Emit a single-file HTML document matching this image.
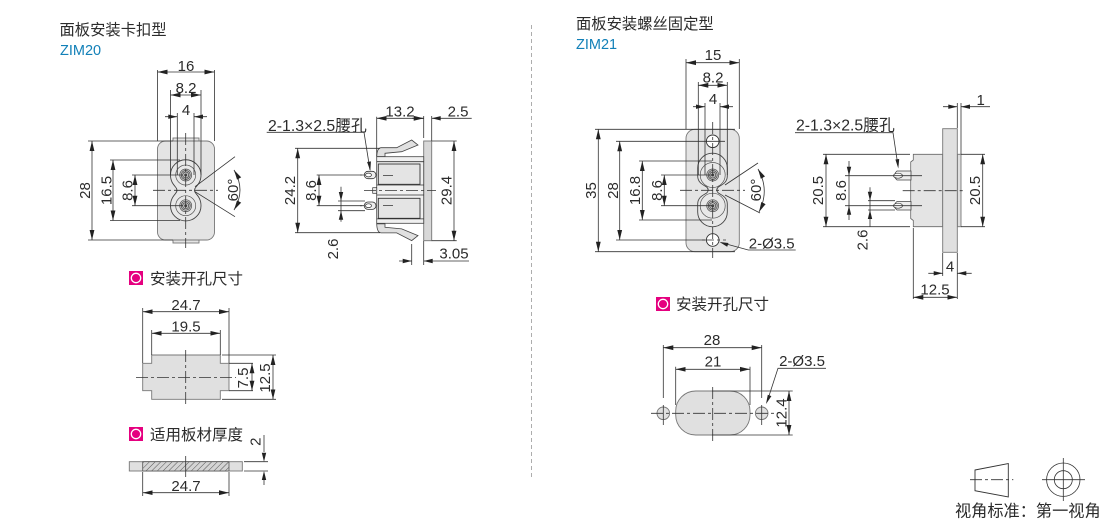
<!DOCTYPE html>
<html>
<head>
<meta charset="utf-8">
<style>
html,body{margin:0;padding:0;background:#fff;width:1110px;height:522px;overflow:hidden}
svg{display:block}
text{font-family:"Liberation Sans","Noto Sans CJK SC",sans-serif;fill:#2b2b2b}
.d{font-size:15px;text-anchor:middle}
.n{font-size:15.800px}
.t{font-size:15.300px}
.s{font-size:15.500px}
.b{fill:#1280b8;font-size:14.500px}
.l{stroke:#333;stroke-width:.8;fill:none}
.dl{stroke:#333;stroke-width:.8;fill:none;marker-start:url(#as);marker-end:url(#ae)}
.c{stroke:#333;stroke-width:.8;fill:none;stroke-dasharray:12 3 3 3}
.g{fill:#e4e4e4;stroke:#777;stroke-width:.9}
.p{fill:#e0e0e0;stroke:#777;stroke-width:.9}
.a{fill:#222}
</style>
</head>
<body>
<svg width="1110" height="522" viewBox="0 0 1110 522" xmlns="http://www.w3.org/2000/svg">
<defs>
<marker id="ae" markerUnits="userSpaceOnUse" markerWidth="10" markerHeight="6" refX="10" refY="3" orient="auto"><path d="M0 .6L10 3L0 5.4Z" fill="#222"/></marker>
<marker id="as" markerUnits="userSpaceOnUse" markerWidth="10" markerHeight="6" refX="0" refY="3" orient="auto"><path d="M10 .6L0 3L10 5.4Z" fill="#222"/></marker>
<pattern id="h" width="4" height="4" patternUnits="userSpaceOnUse" patternTransform="rotate(45)"><rect width="4" height="4" fill="#d4d4d4"/><line x1="0" y1="0" x2="0" y2="4" stroke="#555" stroke-width="1"/></pattern>
<g id="sock"><circle r="6" fill="#c8c8c8" stroke="#555" stroke-width=".7"/><circle r="4.500" fill="none" stroke="#444" stroke-width=".7"/><circle r="3" fill="none" stroke="#444" stroke-width=".7"/><circle r="1.500" fill="#444"/></g>
<g id="pin"><rect x="-5.700" y="-3.700" width="11.700" height="7.400" rx="3.700" fill="#eee" stroke="#333" stroke-width=".8"/><ellipse cx="-1.500" cy="0" rx="3" ry="1.900" fill="#fff" stroke="#333" stroke-width=".7"/></g>
</defs>

<text x="59.500" y="35" class="t">面板安装卡扣型</text>
<text x="60" y="55" class="b">ZIM20</text>
<text x="576" y="29" class="t">面板安装螺丝固定型</text>
<text x="576" y="49" class="b">ZIM21</text>
<line x1="531.500" y1="25" x2="531.500" y2="478" stroke="#999" stroke-width=".8" stroke-dasharray="4 3"/>

<!-- ZIM20 front -->
<rect x="173" y="138" width="26" height="105" class="g"/>
<rect x="157.500" y="141" width="57" height="99" rx="8" class="g"/>
<path d="M170.500 175a15.250 15.250 0 0 1 30.500 0c0 6-2.500 9-5 12q-3 3.300 0 6.600c2.500 3 5 6.100 5 12.100a15.250 15.250 0 0 1-30.500 0c0-6 2.500-9.100 5-12.100q3-3.300 0-6.600c-2.500-3-5-6-5-12Z" fill="#e8e8e8" stroke="#444" stroke-width=".9"/>
<circle cx="185.700" cy="175" r="10" fill="none" stroke="#555" stroke-width=".7"/>
<circle cx="185.700" cy="205.700" r="10" fill="none" stroke="#555" stroke-width=".7"/>
<use href="#sock" x="185.700" y="175"/>
<use href="#sock" x="185.700" y="205.700"/>
<path class="l" d="M157.500 70V141M214.500 70V141M170.500 90V175M201 90V175M177.300 113V175M194 113V175"/>
<path class="dl" d="M157.500 72H214.500"/><path class="dl" d="M170.500 95H201"/>
<path class="l" d="M165 116.700H177.300M194 116.700H207"/>
<path class="a" d="M177.300 116.700l-9-2.200v4.400zM194 116.700l9-2.200v4.400z"/>
<text x="186" y="71" class="d">16</text><text x="186" y="93" class="d">8.2</text><text x="186" y="115" class="d">4</text>
<path class="l" d="M88 141H173M88 240H173M110 160H180M110 220.500H180M132 175H183M132 205.700H183"/>
<path class="dl" d="M92 141V240"/><path class="dl" d="M113 160V220.500"/><path class="dl" d="M135 175V205.700"/>
<text class="d" transform="translate(90 190.500) rotate(-90)">28</text>
<text class="d" transform="translate(111.700 190.500) rotate(-90)">16.5</text>
<text class="d" transform="translate(132.700 190.500) rotate(-90)">8.6</text>
<path class="c" d="M185.700 133V248M153 190.300H218"/>
<path class="l" d="M195 186.700L235 156.700M195 191.700L235 216.700"/>
<path class="dl" d="M234 170Q246 190 234 210"/>
<text class="d" transform="translate(238 190) rotate(-90)">60°</text>

<!-- ZIM20 side -->
<rect x="423.700" y="141" width="8" height="99.700" fill="#d8d8d8" stroke="#777" stroke-width=".9"/>
<path d="M376.700 156.700Q377 148 381 147.700H396.700L411.700 140L418 145L401.700 151.700L385 153.300V156.700Z" fill="#e0e0e0" stroke="#444" stroke-width=".8"/>
<path d="M376.700 223.900Q377 232.600 381 232.900H396.700L411.700 240.600L418 235.600L401.700 228.900L385 227.300V223.900Z" fill="#e0e0e0" stroke="#444" stroke-width=".8"/>
<rect x="376.700" y="156.700" width="47" height="66.600" fill="#f0f0f0" stroke="#444" stroke-width=".8"/>
<path class="l" d="M376.700 161.700H423.700M376.700 218.900H423.700M376.700 185H423.700M376.700 195H423.700"/>
<rect x="378.300" y="164" width="41.700" height="20.300" fill="#e4e4e4" stroke="#333" stroke-width=".9"/>
<rect x="378.300" y="198.300" width="41.700" height="20" fill="#e4e4e4" stroke="#333" stroke-width=".9"/>
<rect x="372.700" y="187.700" width="4" height="5.600" fill="#eee" stroke="#333" stroke-width=".7"/>
<use href="#pin" x="370" y="175"/><use href="#pin" x="370" y="205.700"/>
<path class="c" d="M364 190.500H436"/>
<path class="l" d="M383 175.500H393M383 205.500H393M360 175H364M360 205.700H364"/>
<text x="268" y="131" class="n">2-1.3×2.5腰孔</text>
<path class="l" d="M266.700 132.300H364L370 170"/>
<path class="a" d="M370.300 171l-3.200-9 3.800-.6z"/>
<path class="l" d="M376.700 116.700V156M423.700 116V138M431.700 116V141M412 118.300H423.700M431.700 118.300H471.700M295 148.300H380M295 232.700H380M316.700 175H362M316.700 205.700H362M338 201H365M338 210.700H365"/>
<path class="dl" d="M376.700 118.300H423.700"/>
<path class="a" d="M431.700 118.300l9-2.200v4.400z"/>
<text x="400" y="116.500" class="d">13.2</text>
<text x="458" y="116.500" class="d">2.5</text>
<path class="dl" d="M297.700 148.300V232.700"/><path class="dl" d="M319 175V205.700"/>
<path class="l" d="M341 186.700V221.700"/>
<path class="a" d="M341 201l-2.200-9h4.400zM341 210.700l-2.200 9h4.400z"/>
<text class="d" transform="translate(295 190.500) rotate(-90)">24.2</text>
<text class="d" transform="translate(316 190.500) rotate(-90)">8.6</text>
<text class="d" transform="translate(338 249) rotate(-90)">2.6</text>
<path class="l" d="M431.700 141H456.700M431.700 240.700H456.700M411.700 244V265M423.700 241V265M399 261H411.700M423.700 261H469"/>
<path class="a" d="M411.700 261l-9-2.200v4.400zM423.700 261l9-2.200v4.400z"/>
<path class="dl" d="M454 141V240.700"/>
<text class="d" transform="translate(451.700 190.500) rotate(-90)">29.4</text>
<text x="454" y="258.500" class="d">3.05</text>

<!-- ZIM20 cutout -->
<rect x="129" y="271" width="14" height="14" fill="#e5007f"/><circle cx="136" cy="278" r="4.700" fill="#e5007f" stroke="#fff" stroke-width="1.300"/>
<text x="150" y="284" class="s">安装开孔尺寸</text>
<path d="M151.700 355H220.300V363.300H229V390.700H220.300V399.300H151.700V390.700H142.700V363.300H151.700Z" class="p" stroke="#555"/>
<path class="c" d="M136 377.500H236M185.700 350V405"/>
<path class="l" d="M142.700 308V363M229 308V363M151.700 330V355M220.300 330V355M222 355H276M222 399.300H276M229 363.300H253M229 390.700H253"/>
<path class="dl" d="M142.700 311.700H229"/><path class="dl" d="M151.700 333.300H220.300"/>
<path class="dl" d="M252 363.300V390.700"/><path class="dl" d="M273 355V399.300"/>
<text x="186" y="310" class="d">24.7</text><text x="186" y="331.500" class="d">19.5</text>
<text class="d" transform="translate(248 378) rotate(-90)">7.5</text>
<text class="d" transform="translate(270 378) rotate(-90)">12.5</text>

<rect x="129" y="427" width="14" height="14" fill="#e5007f"/><circle cx="136" cy="434" r="4.700" fill="#e5007f" stroke="#fff" stroke-width="1.300"/>
<text x="150" y="440" class="s">适用板材厚度</text>
<rect x="129.300" y="461.700" width="113" height="9.300" class="p"/>
<rect x="142.700" y="461.700" width="86.300" height="9.300" fill="url(#h)" stroke="#555" stroke-width=".8"/>
<path class="l" d="M185.700 456V477M244 461.700H268M244 471H268M264 435V452M264 480V485M142.700 472V496M229 472V496"/>
<path class="a" d="M264 461.700l-2.200-9h4.400zM264 471l-2.200 9h4.400z"/>
<text class="d" transform="translate(260.700 441.700) rotate(-90)">2</text>
<path class="dl" d="M142.700 492.700H229"/>
<text x="186" y="491" class="d">24.7</text>

<!-- ZIM21 front -->
<rect x="686" y="129.300" width="53.300" height="122.400" rx="9" class="g"/>
<path d="M697.700 168a14.800 14.800 0 0 1 29.600 0v8c0 7-6 9-9 11q-3 3 0 6c3 2 9 4 9 11v8a14.800 14.800 0 0 1-29.600 0v-8c0-7 6-9 9-11q3-3 0-6c-3-2-9-4-9-11Z" fill="#e8e8e8" stroke="#444" stroke-width=".9"/>
<circle cx="712.700" cy="175" r="12.500" fill="none" stroke="#555" stroke-width=".7"/>
<circle cx="712.700" cy="205.700" r="12.500" fill="none" stroke="#555" stroke-width=".7"/>
<use href="#sock" x="712.700" y="175"/><use href="#sock" x="712.700" y="205.700"/>
<circle cx="712.700" cy="141.300" r="6.300" fill="#fff" stroke="#333" stroke-width=".9"/>
<circle cx="712.700" cy="240" r="6.300" fill="#fff" stroke="#333" stroke-width=".9"/>
<path class="c" d="M712.700 122V258M680 190.300H745M702 240H726"/>
<path class="l" d="M686 59V129M739.300 59V129M698.300 82V175M727.300 82V175M705 103V175M720 103V175"/>
<path class="dl" d="M686 62.700H739.300"/><path class="dl" d="M698.300 85.300H727.300"/>
<path class="l" d="M693 106.700H705M720 106.700H733"/>
<path class="a" d="M705 106.700l-9-2.200v4.400zM720 106.700l9-2.200v4.400z"/>
<text x="713" y="60" class="d">15</text><text x="713" y="82.700" class="d">8.2</text><text x="713" y="104" class="d">4</text>
<path class="l" d="M595 129.300H735M595 251.700H735M616 141.300H725M616 240H705M639 161H712M639 220H712M661 175H712M661 205.700H712"/>
<path class="dl" d="M598.300 129.300V251.700"/><path class="dl" d="M619.700 141.300V240"/><path class="dl" d="M642.300 161V220"/><path class="dl" d="M664.300 175V205.700"/>
<text class="d" transform="translate(596 190.500) rotate(-90)">35</text>
<text class="d" transform="translate(618 190.500) rotate(-90)">28</text>
<text class="d" transform="translate(640 190.500) rotate(-90)">16.8</text>
<text class="d" transform="translate(662 190.500) rotate(-90)">8.6</text>
<path class="l" d="M725 185L758 163M725 195L760 213"/>
<path class="dl" d="M758 169Q770 190 759 212"/>
<text class="d" transform="translate(761 190) rotate(-90)">60°</text>
<path class="l" d="M795.700 250H748.300L721.700 242.700"/>
<path class="a" d="M719.500 242l9 1-1.300 3.800z"/>
<text x="771.700" y="248.300" class="d">2-Ø3.5</text>

<!-- ZIM21 side -->
<path d="M913.300 154.300V160L910.700 162V218.500L913.300 220.500V226.700H942.700V154.300Z" fill="#e4e4e4" stroke="#666" stroke-width=".8"/>
<rect x="957.300" y="154.300" width="3.700" height="72.400" class="p"/>
<rect x="942.700" y="128.700" width="14.600" height="123.600" class="p"/>
<path d="M911 171H897Q892 175.500 897 180H911ZM911 201.500H897Q892 205.700 897 210H911Z" fill="#eee" stroke="#444" stroke-width=".8"/>
<ellipse cx="898" cy="175.700" rx="4.500" ry="2.500" fill="#fff" stroke="#333" stroke-width=".7"/>
<ellipse cx="898" cy="205.700" rx="4.500" ry="2.500" fill="#fff" stroke="#333" stroke-width=".7"/>
<path class="l" d="M890 175.700H922M890 205.700H922"/>
<path class="c" d="M902.700 190.700H965"/>
<text x="796" y="130.700" class="n">2-1.3×2.5腰孔</text>
<path class="l" d="M795 132.700H893L898 166"/>
<path class="a" d="M898.300 168.500l-2.900-9 3.800-.5z"/>
<path class="l" d="M957.300 103V128M961 103V154M943 106.700H957.300M961 106.700H990"/>
<path class="a" d="M957.300 106.700l-9-2.200v4.400zM961 106.700l9-2.200v4.400z"/>
<text x="980.700" y="105" class="d">1</text>
<path class="l" d="M823 154.300H910M823 226.700H910M845 175.700H890M845 205.700H890M868 200.700H895M868 210H895M961 154.300H985M961 226.700H985"/>
<path class="dl" d="M826 154.300V226.700"/><path class="dl" d="M982.700 154.300V226.700"/>
<path class="l" d="M849 161V220"/>
<path class="a" d="M849 175.700l-2.200-9h4.400zM849 205.700l-2.200 9h4.400z"/>
<path class="l" d="M870 187.300V226.700"/>
<path class="a" d="M870 200.700l-2.200-9h4.400zM870 210l-2.200 9h4.400z"/>
<text class="d" transform="translate(823 190.500) rotate(-90)">20.5</text>
<text class="d" transform="translate(846 190.500) rotate(-90)">8.6</text>
<text class="d" transform="translate(867.700 240) rotate(-90)">2.6</text>
<text class="d" transform="translate(980 190.500) rotate(-90)">20.5</text>
<path class="l" d="M913.300 228V299M942.700 253V276M957.300 253V299M928.300 273.300H942.700M957.300 273.300H971.700"/>
<path class="a" d="M942.700 273.300l-9-2.200v4.400zM957.300 273.300l9-2.200v4.400z"/>
<text x="950" y="271.700" class="d">4</text>
<path class="dl" d="M913.300 297.300H957.300"/>
<text x="935" y="294.500" class="d">12.5</text>

<!-- ZIM21 cutout -->
<rect x="656" y="297" width="14" height="14" fill="#e5007f"/><circle cx="663" cy="304" r="4.700" fill="#e5007f" stroke="#fff" stroke-width="1.300"/>
<text x="676" y="309.500" class="s">安装开孔尺寸</text>
<rect x="675.700" y="391" width="74.300" height="44" rx="20" class="p"/>
<circle cx="663.300" cy="413.300" r="6.300" class="p"/><circle cx="761.700" cy="413.300" r="6.300" class="p"/>
<path class="c" d="M651 413.300H774M712.700 387V441"/>
<path class="l" d="M663.300 345V398M761.700 345V398M663.300 405V425M761.700 405V425M675.700 366.700V405M750 366.700V405M712 391H792.700M712 435H792.700"/>
<path class="dl" d="M663.300 347.700H761.700"/><path class="dl" d="M675.700 369.300H750"/><path class="dl" d="M789 391V435"/>
<path class="l" d="M826 368.300H778L767 402"/>
<path class="a" d="M766 404l1.800-9.200 3.600 1.300z"/>
<text x="712" y="345" class="d">28</text><text x="713" y="366.700" class="d">21</text>
<text x="802" y="366" class="d">2-Ø3.5</text>
<text class="d" transform="translate(786.700 413) rotate(-90)">12.4</text>

<!-- legend -->
<path d="M975 470L1008.300 463.500V497L975 490.700Z" fill="#fff" stroke="#333" stroke-width=".9"/>
<path class="c" d="M970 479.700H1013.300"/>
<circle cx="1063.300" cy="479.700" r="16.700" class="l"/><circle cx="1063.300" cy="479.700" r="9" class="l"/>
<path class="l" d="M1042 479.700H1085M1063.300 458V501"/>
<text x="955" y="516.500" style="font-size:16.200px">视角标准：第一视角</text>
</svg>
</body>
</html>
